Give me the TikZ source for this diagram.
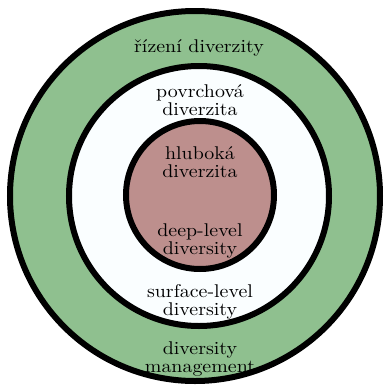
\documentclass[tikz,border=0pt]{standalone}
\usepackage{fontspec}
\usepackage{graphicx}
\definecolor{ringgreen}{RGB}{143,192,143}
\definecolor{corerose}{RGB}{189,143,141}
\definecolor{midwhite}{RGB}{250,254,255}
\newcommand{\sx}[1]{\scalebox{2.0}[1.85]{#1}}
\begin{document}
\begin{tikzpicture}[x=1bp,y=-1bp,
  ring/.style={circle, draw=black, line width=6bp, inner sep=0pt},
  lbl/.style={anchor=base, inner sep=0pt, font=\normalsize}]
\useasboundingbox (0,0) rectangle (385,389);
\node[ring, fill=ringgreen, minimum size=370bp] (outer) at (195,196) {};
\node[ring, fill=midwhite, minimum size=260bp] (middle) at (199,196) {};
\node[ring, fill=corerose, minimum size=148bp] (inner) at (200,195) {};
\node[lbl] (mgmtcz) at (199,52) {\sx{řízení diverzity}};
\node[lbl] (surfcza) at (200,97) {\sx{povrchová}};
\node[lbl] (surfczb) at (200,115) {\sx{diverzita}};
\node[lbl] (deepcza) at (200,159) {\sx{hluboká}};
\node[lbl] (deepczb) at (200,177) {\sx{diverzita}};
\node[lbl] (deepena) at (200,236) {\sx{deep-level}};
\node[lbl] (deepenb) at (200,254) {\sx{diversity}};
\node[lbl] (surfena) at (200,297) {\sx{surface-level}};
\node[lbl] (surfenb) at (200,315) {\sx{diversity}};
\node[lbl] (mgmtena) at (200,354) {\sx{diversity}};
\node[lbl] (mgmtenb) at (200,372) {\sx{management}};
\end{tikzpicture}
\end{document}
